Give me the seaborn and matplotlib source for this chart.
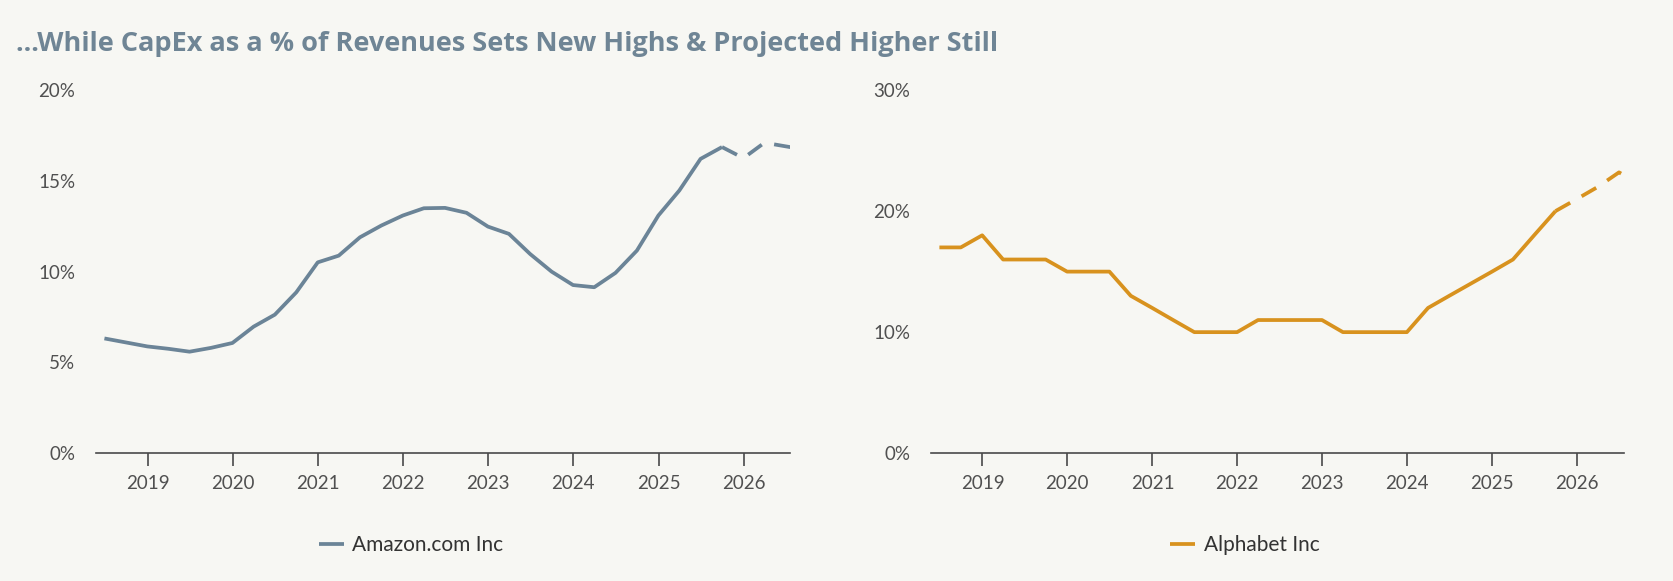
import numpy as np
import pandas as pd
import seaborn as sns
import matplotlib.pyplot as plt
import matplotlib.dates as mdates
from matplotlib.ticker import FuncFormatter

# quarterly capex as % of revenues, quarter-end dates
quarters_actual = pd.period_range('2018Q2', '2025Q3', freq='Q')
quarters_proj = pd.period_range('2025Q3', '2026Q3', freq='Q')

amzn_actual = [6.32, 6.1, 5.88, 5.75, 5.59, 5.8, 6.07, 6.97, 7.63, 8.86,
               10.51, 10.88, 11.89, 12.54, 13.09, 13.49, 13.51, 13.24, 12.48, 12.08,
               10.97, 10.0, 9.26, 9.14, 9.93, 11.16, 13.09, 14.47, 16.21, 16.86]
amzn_proj = [16.86, 16.25, 17.1, 16.9, 16.7]

googl_actual = [17, 17, 18, 16, 16, 16, 15, 15, 15, 13,
                12, 11, 10, 10, 10, 11, 11, 11, 11, 10,
                10, 10, 10, 12, 13, 14, 15, 16, 18, 20]
googl_proj = [20, 21, 22, 23.2, 22.2]

title = "...While CapEx as a % of Revenues Sets New Highs & Projected Higher Still"
amzn_name = "Amazon.com Inc"
googl_name = "Alphabet Inc"

amzn_color = "#6B8497"
googl_color = "#D8921E"
bg = "#F7F7F3"


def to_dates(q):
    return q.end_time.normalize()


sns.set_style("white")
plt.rcParams['font.family'] = ['Lato', 'DejaVu Sans']

fig = plt.figure(figsize=(16.73, 5.81), dpi=100, facecolor=bg)
ax1 = fig.add_axes([0.0574, 0.220, 0.415, 0.625])
ax2 = fig.add_axes([0.5565, 0.220, 0.414, 0.625])

panels = [
    (ax1, amzn_actual, amzn_proj, amzn_color, amzn_name, 20, [0, 5, 10, 15, 20], 0.2457),
    (ax2, googl_actual, googl_proj, googl_color, googl_name, 30, [0, 10, 20, 30], 0.744),
]

for ax, act, proj, col, name, ymax, yticks, legx in panels:
    ax.set_facecolor(bg)
    df_a = pd.DataFrame({'date': to_dates(quarters_actual), 'value': act})
    df_p = pd.DataFrame({'date': to_dates(quarters_proj), 'value': proj})
    sns.lineplot(data=df_a, x='date', y='value', ax=ax, color=col, lw=2.7,
                 label=name, solid_capstyle='butt')
    sns.lineplot(data=df_p, x='date', y='value', ax=ax, color=col, lw=2.7,
                 label='_nolegend_')
    ax.lines[-1].set_dashes((4.5, 3.5))

    ax.set_xlim(pd.Timestamp('2018-05-25'), pd.Timestamp('2026-07-20'))
    ax.set_ylim(0, ymax)
    ax.set_yticks(yticks)
    ax.yaxis.set_major_formatter(FuncFormatter(lambda v, p: f"{v:.0f}%"))
    ax.xaxis.set_major_locator(mdates.YearLocator())
    ax.xaxis.set_major_formatter(mdates.DateFormatter('%Y'))
    ax.set_xlabel('')
    ax.set_ylabel('')

    for s in ['top', 'right', 'left']:
        ax.spines[s].set_visible(False)
    ax.spines['bottom'].set_color('#4A4A4A')
    ax.spines['bottom'].set_linewidth(1.2)
    ax.tick_params(axis='x', direction='out', length=9.5, width=1.2, color='#4A4A4A',
                   labelsize=13.5, labelcolor='#505050', pad=6, bottom=True)
    ax.tick_params(axis='y', length=0, labelsize=13.5, labelcolor='#505050', pad=15)
    ax.grid(False)

    ax.legend(loc='center', bbox_to_anchor=(legx, 0.062), bbox_transform=fig.transFigure,
              frameon=False, fontsize=15, handlelength=1.2, handletextpad=0.4,
              labelcolor='#333333')

fig.text(0.0096, 0.925, title, family=['Open Sans', 'DejaVu Sans'], fontsize=19.5,
         fontweight='bold', color='#6F8595', ha='left', va='center')

fig.savefig('out.png', dpi=100, facecolor=bg)
